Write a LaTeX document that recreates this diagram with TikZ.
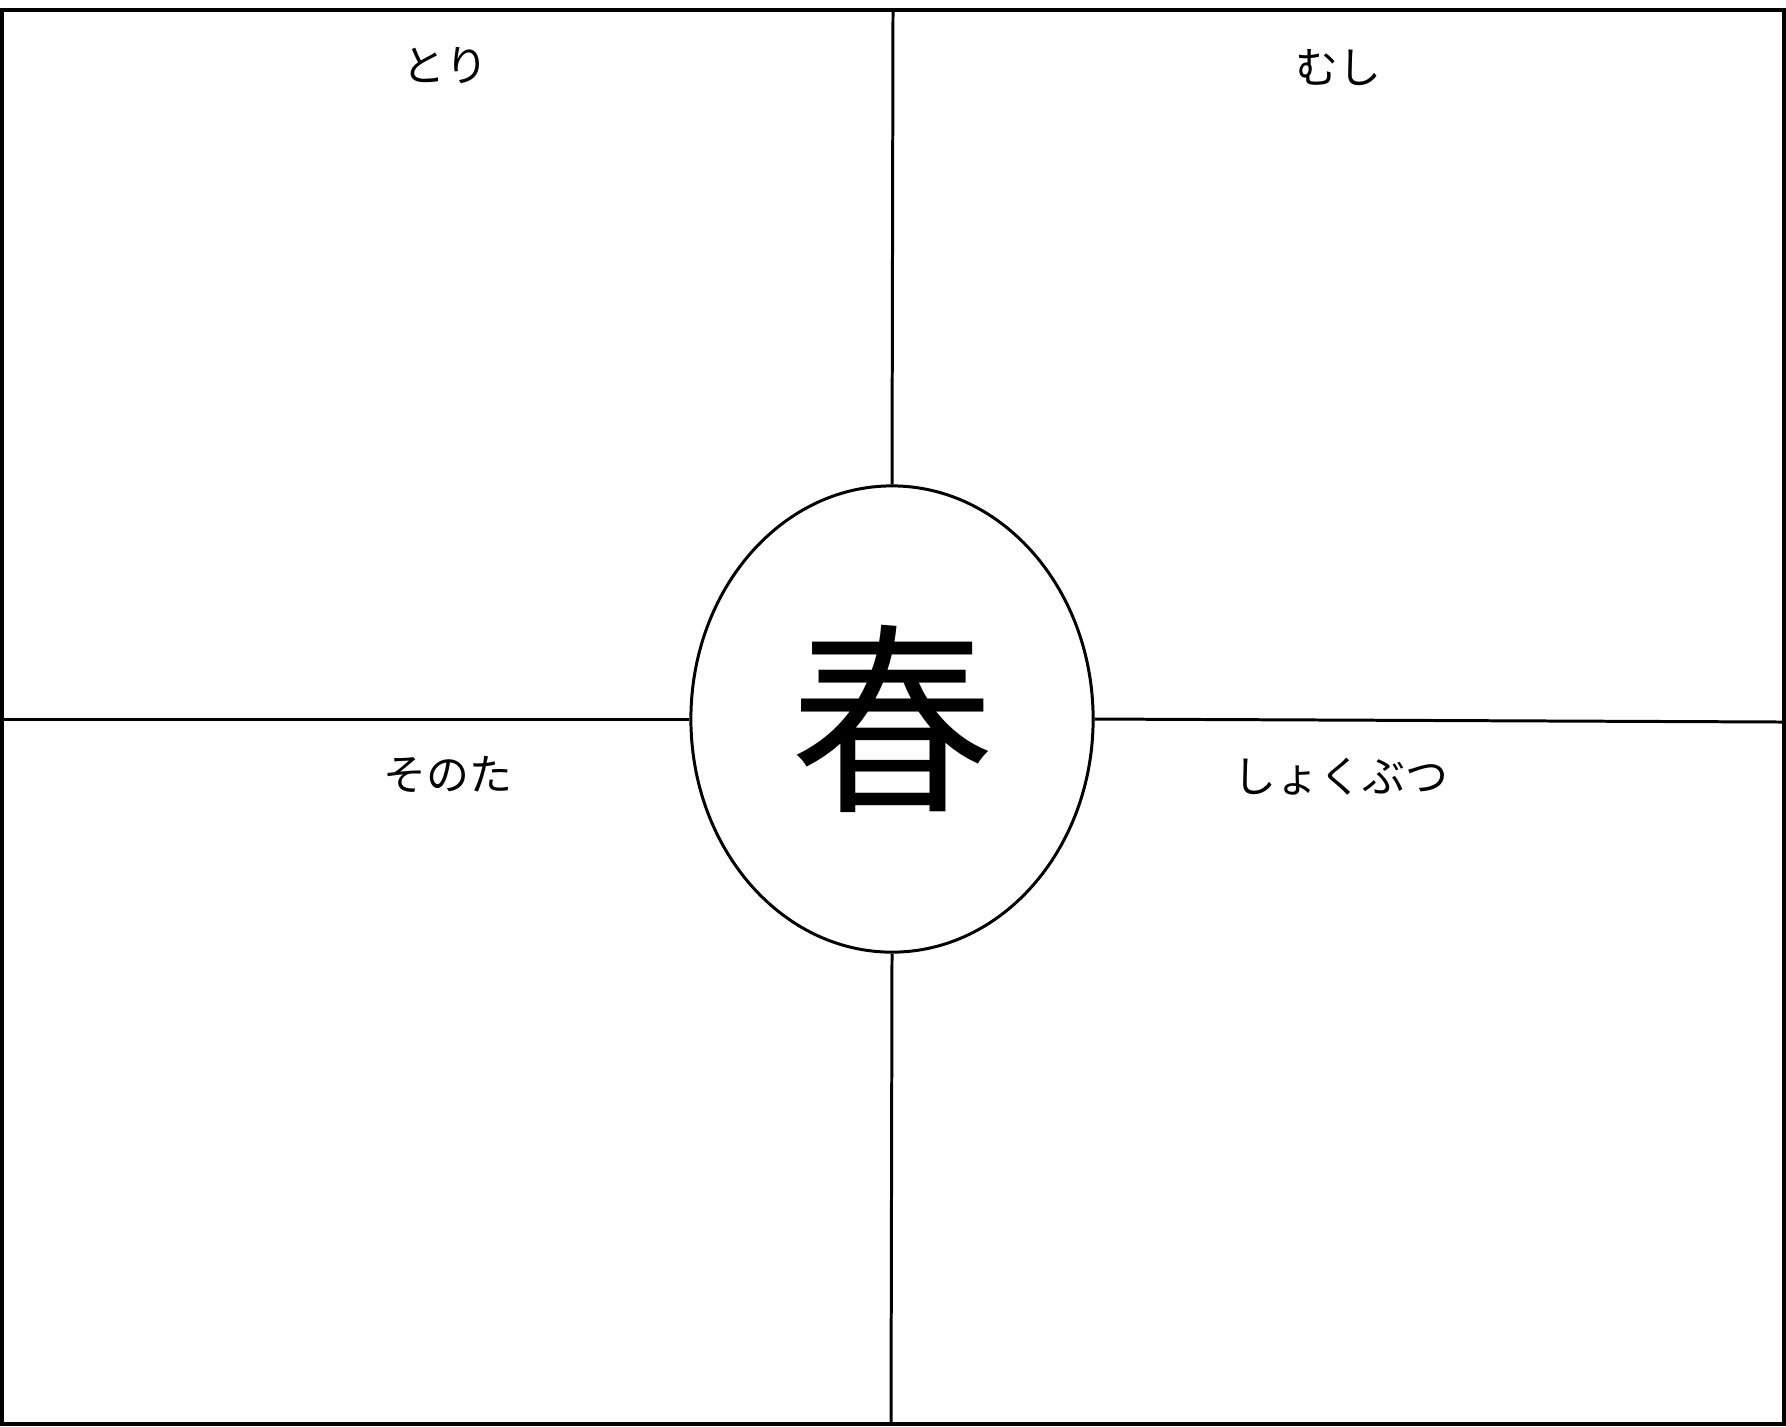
\documentclass[tikz,border=0pt]{standalone}
\usepackage{fontspec}
\setmainfont{Noto Sans CJK JP}
\usetikzlibrary{shapes.geometric}

\begin{document}
\begin{tikzpicture}[x=0.01cm,y=-0.01cm,
  rule/.style={line width=0.85pt},
  topic/.style={font=\fontsize{12.2}{14}\selectfont},
  season/.style={draw,ellipse,line width=0.85pt,minimum width=4.02cm,minimum height=4.66cm,inner sep=0pt,fill=white,font=\fontsize{58}{58}\selectfont}]
\useasboundingbox (0,0) rectangle (1786,1426);
\draw[rule,line width=1pt] (2,10) rectangle (1784,1424);
% centre
\node[season] (haru) at (892,719) {春};
% frame ends of the dividers
\coordinate (top) at (893,10);
\coordinate (bottom) at (891,1424);
\coordinate (left) at (2,719);
\coordinate (right) at (1784,722);
\draw[rule] (top) -- (haru.north);
\draw[rule] (haru.south) -- (bottom);
\draw[rule] (left) -- (haru.west);
\draw[rule] (haru.east) -- (right);
% quarters
\node[topic] (tori) at (445,66) {とり};
\node[topic] (mushi) at (1338,68) {むし};
\node[topic] (sonota) at (448,775) {そのた};
\node[topic] (shokubutsu) at (1341,777) {しょくぶつ};
\end{tikzpicture}
\end{document}
